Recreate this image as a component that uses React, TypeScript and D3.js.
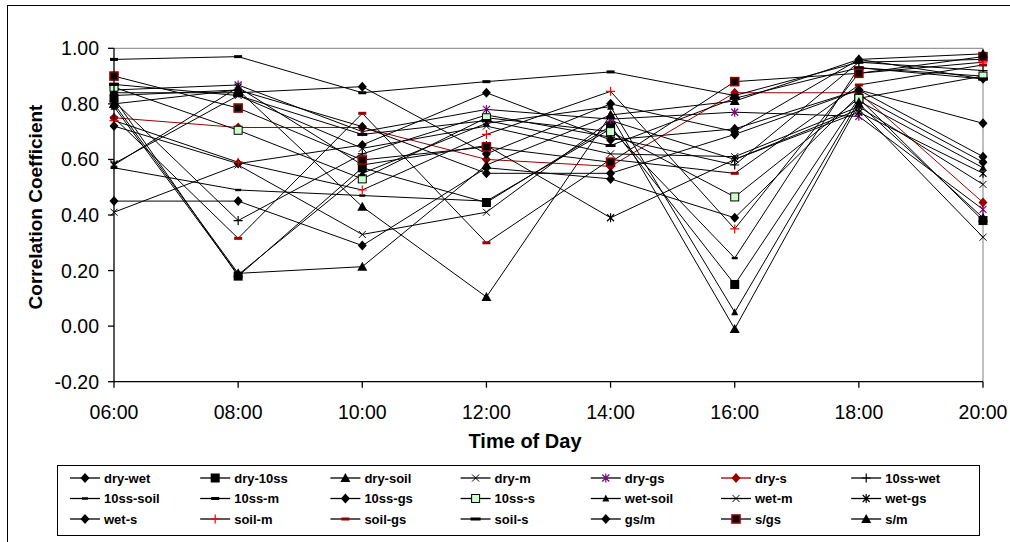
import React from "react";
import * as d3 from "d3";

const times = ["06:00", "08:00", "10:00", "12:00", "14:00", "16:00", "18:00", "20:00"];
const yTicks = [-0.2, 0, 0.2, 0.4, 0.6, 0.8, 1.0];

const seriesNames = [
  "dry-wet", "dry-10ss", "dry-soil", "dry-m", "dry-gs", "dry-s", "10ss-wet",
  "10ss-soil", "10ss-m", "10ss-gs", "10ss-s", "wet-soil", "wet-m", "wet-gs",
  "wet-s", "soil-m", "soil-gs", "soil-s", "gs/m", "s/gs", "s/m",
];

const dryWet = [0.45, 0.45, 0.29, 0.57, 0.53, 0.39, 0.83, 0.59];
const dry10ss = [0.82, 0.18, 0.57, 0.445, 0.72, 0.15, 0.82, 0.38];
const drySoil = [0.8, 0.85, 0.43, 0.105, 0.76, -0.01, 0.8, 0.39];
const dryM = [0.41, 0.58, 0.33, 0.41, 0.74, 0.6, 0.78, 0.32];
const dryGs = [0.85, 0.868, 0.7, 0.78, 0.745, 0.77, 0.755, 0.42];
const dryS = [0.75, 0.715, 0.715, 0.6, 0.575, 0.84, 0.84, 0.445];
const s10Wet = [0.81, 0.38, 0.62, 0.76, 0.68, 0.58, 0.95, 0.92];
const s10Soil = [0.57, 0.49, 0.47, 0.45, 0.71, 0.245, 0.93, 0.9];
const s10M = [0.96, 0.97, 0.84, 0.88, 0.915, 0.83, 0.95, 0.96];
const s10Gs = [0.84, 0.84, 0.862, 0.62, 0.8, 0.7, 0.96, 0.89];
const s10S = [0.86, 0.705, 0.53, 0.75, 0.7, 0.465, 0.82, 0.9];
const wetSoil = [0.79, 0.185, 0.55, 0.73, 0.79, 0.05, 0.81, 0.57];
const wetM = [0.585, 0.83, 0.64, 0.72, 0.62, 0.61, 0.79, 0.51];
const wetGs = [0.58, 0.86, 0.58, 0.65, 0.39, 0.6, 0.77, 0.55];
const wetS = [0.72, 0.585, 0.652, 0.84, 0.67, 0.71, 0.85, 0.61];
const soilM = [0.74, 0.59, 0.49, 0.69, 0.845, 0.35, 0.91, 0.95];
const soilGs = [0.75, 0.316, 0.766, 0.3, 0.6, 0.55, 0.868, 0.94];
const soilS = [0.87, 0.83, 0.69, 0.74, 0.65, 0.82, 0.93, 0.89];
const gsM = [0.83, 0.85, 0.718, 0.55, 0.55, 0.69, 0.85, 0.73];
const sGs = [0.9, 0.785, 0.598, 0.645, 0.59, 0.88, 0.91, 0.97];
const sM = [0.8, 0.19, 0.214, 0.58, 0.76, 0.81, 0.96, 0.98];

const seriesValues = [
  dryWet, dry10ss, drySoil, dryM, dryGs, dryS, s10Wet, s10Soil, s10M, s10Gs, s10S,
  wetSoil, wetM, wetGs, wetS, soilM, soilGs, soilS, gsM, sGs, sM,
];

type Style = { marker: string; color: string; fill?: string; line: string };
const styles: Style[] = [
  { marker: "diamond", color: "#000", line: "#000" },
  { marker: "square", color: "#000", line: "#000" },
  { marker: "triangle", color: "#000", line: "#000" },
  { marker: "x", color: "#000", line: "#000" },
  { marker: "star", color: "#800080", line: "#000" },
  { marker: "diamond", color: "#990000", line: "#990000" },
  { marker: "plus", color: "#000", line: "#000" },
  { marker: "dashS", color: "#000", line: "#000" },
  { marker: "dashM", color: "#000", line: "#000" },
  { marker: "diamond", color: "#000", line: "#000" },
  { marker: "squareOpen", color: "#000", fill: "#CCFFCC", line: "#000" },
  { marker: "triangleS", color: "#000", line: "#000" },
  { marker: "x", color: "#000", line: "#000" },
  { marker: "star", color: "#000", line: "#000" },
  { marker: "diamond", color: "#000", line: "#000" },
  { marker: "plus", color: "#FF0000", line: "#000" },
  { marker: "dashM", color: "#990000", line: "#000" },
  { marker: "dashL", color: "#000", line: "#000" },
  { marker: "diamond", color: "#000", line: "#000" },
  { marker: "squareRed", color: "#990000", fill: "#000", line: "#000" },
  { marker: "triangle", color: "#000", line: "#000" },
];

function Marker({ type, color, fill, x, y }: { type: string; color: string; fill?: string; x: number; y: number }) {
  const t = `translate(${x},${y})`;
  switch (type) {
    case "diamond":
      return <path transform={t} d="M0,-5L4.5,0L0,5L-4.5,0Z" fill={color} />;
    case "square":
      return <rect transform={t} x={-4.5} y={-4.5} width={9} height={9} fill={color} />;
    case "squareOpen":
      return <rect transform={t} x={-4} y={-4} width={8} height={8} fill={fill} stroke={color} strokeWidth={1} />;
    case "squareRed":
      return <rect transform={t} x={-4} y={-4} width={8} height={8} fill={fill} stroke={color} strokeWidth={1.6} />;
    case "triangle":
      return <path transform={t} d="M0,-5L5,4L-5,4Z" fill={color} />;
    case "triangleS":
      return <path transform={t} d="M0,-4L3.5,3L-3.5,3Z" fill={color} />;
    case "x":
      return <path transform={t} d="M-3.5,-3.5L3.5,3.5M-3.5,3.5L3.5,-3.5" stroke={color} strokeWidth={1} fill="none" />;
    case "star":
      return <path transform={t} d="M-3.5,-3.5L3.5,3.5M-3.5,3.5L3.5,-3.5M0,-4.5V4.5" stroke={color} strokeWidth={1.2} fill="none" />;
    case "plus":
      return <path transform={t} d="M-4.5,0H4.5M0,-4.5V4.5" stroke={color} strokeWidth={1.2} fill="none" />;
    case "dashS":
      return <rect transform={t} x={-3} y={-1.2} width={6} height={2.4} fill={color} />;
    case "dashM":
      return <rect transform={t} x={-4} y={-1.5} width={8} height={3} fill={color} />;
    case "dashL":
      return <rect transform={t} x={-5} y={-1.5} width={10} height={3} fill={color} />;
    default:
      return null;
  }
}

export default function App() {
  const W = 1010;
  const H = 542;
  const x = d3.scalePoint<string>().domain(times).range([114, 983]);
  const y = d3.scaleLinear().domain([-0.2, 1.0]).range([381.7, 48.3]);
  const line = d3
    .line<number>()
    .x((_, i) => x(times[i]) as number)
    .y((d) => y(d));

  const font = "'Liberation Sans', Arial, sans-serif";
  const legendCols = 7;
  const legendX0 = 85;
  const legendDx = 130.2;
  const legendY0 = 478;
  const legendDy = 20.5;

  return (
    <svg width={W} height={H} style={{ position: "absolute", left: 0, top: 0, background: "#fff" }}>
      <rect x={0} y={0} width={W} height={H} fill="#fff" />
      {/* outer chart frame */}
      <rect x={7.5} y={5.5} width={W + 10} height={H + 10} fill="none" stroke="#000" strokeWidth={1} />

      {/* plot borders */}
      <line x1={114} x2={983} y1={y(1)} y2={y(1)} stroke="#808080" strokeWidth={1} />
      <line x1={983} x2={983} y1={y(1)} y2={y(-0.2)} stroke="#808080" strokeWidth={1} />

      {/* series lines */}
      {seriesValues.map((vals, i) => (
        <path key={"l" + i} d={line(vals) || ""} fill="none" stroke={styles[i].line} strokeWidth={1} />
      ))}
      {/* markers */}
      {seriesValues.map((vals, i) =>
        vals.map((v, j) => (
          <Marker
            key={`m${i}-${j}`}
            type={styles[i].marker}
            color={styles[i].color}
            fill={styles[i].fill}
            x={x(times[j]) as number}
            y={y(v)}
          />
        ))
      )}

      {/* axes */}
      <line x1={114} x2={114} y1={y(1)} y2={y(-0.2)} stroke="#000" strokeWidth={1.3} />
      <line x1={114} x2={983} y1={y(-0.2)} y2={y(-0.2)} stroke="#000" strokeWidth={1.3} />
      {yTicks.map((t) => (
        <g key={"yt" + t}>
          <line x1={108} x2={114} y1={y(t)} y2={y(t)} stroke="#000" strokeWidth={1.3} />
          <text x={99} y={y(t)} dy="0.36em" textAnchor="end" fontFamily={font} fontSize={19.5} fill="#000">
            {t.toFixed(2)}
          </text>
        </g>
      ))}
      {times.map((t) => (
        <g key={"xt" + t}>
          <line x1={x(t)} x2={x(t)} y1={y(-0.2)} y2={y(-0.2) + 6} stroke="#000" strokeWidth={1.3} />
          <text x={x(t)} y={419} textAnchor="middle" fontFamily={font} fontSize={19.5} fill="#000">
            {t}
          </text>
        </g>
      ))}
      <text x={525} y={448} textAnchor="middle" fontFamily={font} fontSize={20} fontWeight="bold" fill="#000">
        Time of Day
      </text>
      <text
        transform={`translate(42,207) rotate(-90)`}
        textAnchor="middle"
        fontFamily={font}
        fontSize={19}
        fontWeight="bold"
        fill="#000"
      >
        Correlation Coefficient
      </text>

      {/* legend */}
      <rect x={57.5} y={465.5} width={922} height={70} fill="#fff" stroke="#000" strokeWidth={1} />
      {seriesNames.map((name, i) => {
        const cx = legendX0 + (i % legendCols) * legendDx;
        const cy = legendY0 + Math.floor(i / legendCols) * legendDy;
        const st = styles[i];
        return (
          <g key={"lg" + i}>
            <line x1={cx - 15} x2={cx + 15} y1={cy} y2={cy} stroke={st.line} strokeWidth={1.3} />
            <Marker type={st.marker} color={st.color} fill={st.fill} x={cx} y={cy} />
            <text x={cx + 19} y={cy} dy="0.36em" fontFamily={font} fontSize={13} fontWeight="bold" fill="#000">
              {name}
            </text>
          </g>
        );
      })}
    </svg>
  );
}
